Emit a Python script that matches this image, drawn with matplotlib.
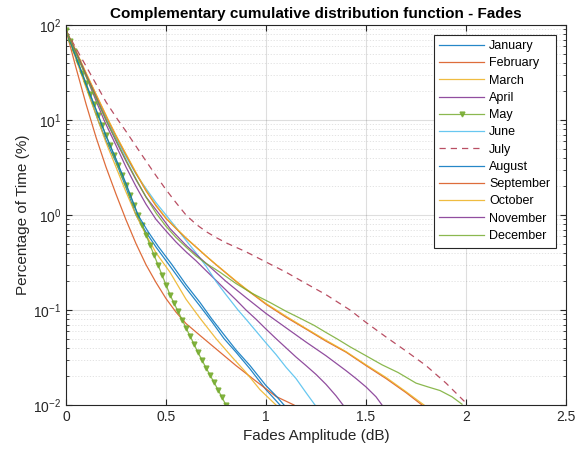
import numpy as np
import matplotlib
matplotlib.use("Agg")
import matplotlib.pyplot as plt
from matplotlib.ticker import LogLocator, NullFormatter, FixedLocator

plt.rcParams['font.family'] = ['Liberation Sans', 'DejaVu Sans']
plt.rcParams['mathtext.fontset'] = 'custom'
plt.rcParams['mathtext.rm'] = 'Liberation Sans'

# values (x in dB, y in % of time)
jan_x = [0, 0.05, 0.1, 0.16, 0.2, 0.25, 0.3, 0.35, 0.4, 0.45, 0.52, 0.6, 0.67, 0.73, 0.79, 0.85, 0.92, 1.0, 1.07]
jan_y = [88, 45, 23, 10, 6.1, 3.6, 1.95, 1.0, 0.66, 0.46, 0.29, 0.17, 0.11, 0.075, 0.05, 0.036, 0.024, 0.0145, 0.01]

feb_x = [0, 0.05, 0.1, 0.15, 0.2, 0.25, 0.3, 0.35, 0.4, 0.45, 0.5, 0.55, 0.6, 0.67, 0.75, 0.85, 0.95, 1.05, 1.14]
feb_y = [88, 35.5, 14.8, 6.6, 3.2, 1.66, 0.89, 0.5, 0.3, 0.195, 0.132, 0.095, 0.072, 0.054, 0.039, 0.026, 0.0178, 0.0123, 0.01]

mar_x = [0, 0.05, 0.1, 0.16, 0.2, 0.25, 0.3, 0.35, 0.4, 0.45, 0.52, 0.6, 0.67, 0.75, 0.83, 0.9, 0.97, 1.05]
mar_y = [88, 44, 22, 10, 5.8, 3.2, 1.75, 1.0, 0.62, 0.40, 0.25, 0.13, 0.082, 0.05, 0.032, 0.022, 0.0145, 0.01]

apr_x = [0, 0.05, 0.1, 0.15, 0.19, 0.25, 0.3, 0.35, 0.4, 0.45, 0.5, 0.55, 0.6, 0.65, 0.7, 0.75, 0.8, 0.85,
         0.9, 0.95, 1.0, 1.05, 1.1, 1.15, 1.2, 1.25, 1.3, 1.35, 1.385]
apr_y = [88, 51, 29, 16, 10, 5.4, 3.2, 2.0, 1.3, 0.9, 0.68, 0.52, 0.41, 0.33, 0.26, 0.205, 0.162, 0.128,
         0.10, 0.08, 0.063, 0.05, 0.04, 0.032, 0.026, 0.021, 0.0165, 0.0125, 0.01]

may_x = [0.00, 0.02, 0.04, 0.06, 0.08, 0.10, 0.12, 0.14, 0.16, 0.18, 0.20, 0.22, 0.24, 0.26, 0.28, 0.30,
         0.32, 0.34, 0.36, 0.38, 0.40, 0.42, 0.44, 0.46, 0.48, 0.50, 0.52, 0.54, 0.56, 0.58, 0.60, 0.62,
         0.64, 0.66, 0.68, 0.70, 0.72, 0.74, 0.76, 0.78, 0.80]
may_y = [88, 68, 52.7, 40.8, 31.6, 24.5, 19.0, 14.7, 11.4, 8.85, 6.95, 5.46, 4.28, 3.36, 2.64, 2.07,
         1.62, 1.27, 1.0, 0.785, 0.617, 0.484, 0.38, 0.299, 0.234, 0.184, 0.145, 0.118, 0.097, 0.0794,
         0.065, 0.0533, 0.0437, 0.0357, 0.0296, 0.0247, 0.0207, 0.0173, 0.0145, 0.012, 0.01]

jun_x = [0, 0.05, 0.1, 0.15, 0.2, 0.25, 0.3, 0.35, 0.4, 0.45, 0.5, 0.55, 0.6, 0.65, 0.7, 0.75, 0.8, 0.86,
         0.9, 0.95, 1.0, 1.05, 1.1, 1.15, 1.2, 1.245]
jun_y = [88, 52, 30, 17.5, 10.5, 6.5, 4.1, 2.7, 1.9, 1.35, 1.0, 0.74, 0.54, 0.4, 0.29, 0.2, 0.145, 0.1,
         0.08, 0.06, 0.045, 0.034, 0.025, 0.019, 0.0135, 0.01]

jul_x = [0, 0.05, 0.1, 0.15, 0.2, 0.26, 0.3, 0.35, 0.4, 0.45, 0.5, 0.55, 0.6, 0.65, 0.7, 0.75, 0.8, 0.9,
         1.0, 1.1, 1.2, 1.3, 1.42, 1.5, 1.6, 1.7, 1.8, 1.9, 2.0]
jul_y = [88, 57, 37, 24, 15.5, 10, 7.6, 5.3, 3.7, 2.6, 1.85, 1.35, 1.0, 0.8, 0.67, 0.58, 0.51, 0.41,
         0.32, 0.25, 0.19, 0.145, 0.1, 0.074, 0.052, 0.037, 0.026, 0.017, 0.0105]

aug_x = [0, 0.05, 0.1, 0.17, 0.2, 0.25, 0.3, 0.36, 0.41, 0.46, 0.53, 0.6, 0.67, 0.73, 0.79, 0.85, 0.92, 1.0, 1.05, 1.09]
aug_y = [88, 46, 24, 10, 6.8, 3.9, 2.15, 1.0, 0.67, 0.47, 0.30, 0.185, 0.12, 0.08, 0.055, 0.038, 0.026, 0.016, 0.0125, 0.01]

sep_x = [0, 0.05, 0.1, 0.15, 0.21, 0.25, 0.3, 0.35, 0.4, 0.45, 0.5, 0.55, 0.6, 0.65, 0.7, 0.75, 0.8, 0.85,
         0.9, 0.95, 1.0, 1.1, 1.2, 1.3, 1.4, 1.5, 1.6, 1.7, 1.78]
sep_y = [88, 53, 31, 18.5, 10, 6.8, 4.3, 2.75, 1.8, 1.25, 0.92, 0.72, 0.57, 0.46, 0.37, 0.3, 0.245, 0.2,
         0.165, 0.138, 0.115, 0.084, 0.063, 0.047, 0.036, 0.026, 0.019, 0.0135, 0.01]

oct_x = [0, 0.05, 0.1, 0.15, 0.21, 0.25, 0.3, 0.35, 0.4, 0.45, 0.5, 0.55, 0.6, 0.65, 0.7, 0.75, 0.8, 0.85,
         0.9, 0.95, 1.0, 1.1, 1.2, 1.3, 1.4, 1.5, 1.6, 1.7, 1.79]
oct_y = [88, 53.5, 31.5, 18.8, 10.2, 6.9, 4.4, 2.8, 1.83, 1.27, 0.93, 0.73, 0.575, 0.462, 0.372, 0.302, 0.247, 0.202,
         0.167, 0.14, 0.117, 0.086, 0.064, 0.048, 0.0365, 0.0265, 0.0195, 0.0138, 0.01]

nov_x = [0, 0.05, 0.1, 0.15, 0.2, 0.25, 0.3, 0.35, 0.4, 0.47, 0.52, 0.6, 0.7, 0.8, 0.9, 1.0, 1.1, 1.2,
         1.3, 1.4, 1.45, 1.5, 1.55, 1.58]
nov_y = [88, 52, 30, 17.5, 10, 6.0, 3.7, 2.35, 1.55, 1.0, 0.72, 0.48, 0.31, 0.2, 0.135, 0.092, 0.065, 0.046,
         0.033, 0.023, 0.019, 0.0155, 0.0122, 0.01]

dec_x = [0, 0.05, 0.1, 0.15, 0.2, 0.25, 0.3, 0.35, 0.4, 0.45, 0.5, 0.55, 0.6, 0.65, 0.7, 0.77, 0.85, 0.93,
         1.02, 1.1, 1.17, 1.24, 1.3, 1.36, 1.42, 1.5, 1.58, 1.66, 1.75, 1.81, 1.87, 1.93, 1.98]
dec_y = [88, 50, 29, 17, 10, 6.2, 3.8, 2.4, 1.55, 1.05, 0.76, 0.58, 0.46, 0.37, 0.31, 0.25, 0.19, 0.15,
         0.12, 0.097, 0.082, 0.069, 0.058, 0.049, 0.041, 0.033, 0.0265, 0.022, 0.017, 0.0155, 0.0142, 0.0122, 0.0102]

months = ["January", "February", "March", "April", "May", "June", "July",
          "August", "September", "October", "November", "December"]
xs = [jan_x, feb_x, mar_x, apr_x, may_x, jun_x, jul_x, aug_x, sep_x, oct_x, nov_x, dec_x]
ys = [jan_y, feb_y, mar_y, apr_y, may_y, jun_y, jul_y, aug_y, sep_y, oct_y, nov_y, dec_y]

# matlab default colour order
mcol = ["#0072BD", "#D95319", "#EDB120", "#7E2F8E", "#77AC30", "#4DBEEE", "#A2142F"]

fig = plt.figure(figsize=(5.86, 4.5), dpi=100)
ax = fig.add_axes([0.1126, 0.1, 0.8533, 0.8444])

for i in range(12):
    c = mcol[i % 7]
    if i == 4:
        ax.semilogy(xs[i], ys[i], color=c, lw=0.9, marker="v", ms=3.5, mfc=c, mec=c,
                    alpha=0.85, label=months[i])
    elif i == 6:
        ax.semilogy(xs[i], ys[i], color=c, lw=0.9, ls=(0, (5, 4)), alpha=0.75, label=months[i])
    else:
        ax.semilogy(xs[i], ys[i], color=c, lw=0.9, alpha=0.85, label=months[i])

ax.set_xlim(0, 2.5)
ax.set_ylim(1e-2, 1e2)
ax.xaxis.set_major_locator(FixedLocator([0, 0.5, 1, 1.5, 2, 2.5]))
ax.set_xticklabels(["0", "0.5", "1", "1.5", "2", "2.5"])
ax.yaxis.set_major_locator(LogLocator(base=10, numticks=10))
ax.yaxis.set_minor_locator(LogLocator(base=10, subs=np.arange(2, 10), numticks=10))
ax.yaxis.set_minor_formatter(NullFormatter())

gc = "#262626"
ax.grid(True, which="major", color=gc, alpha=0.15, lw=0.8)
ax.grid(True, which="minor", axis="y", color=gc, alpha=0.15, lw=0.6, ls=(0, (1.5, 2)))
ax.tick_params(which="both", direction="in", top=True, right=True, colors=gc, labelsize=10)
ax.tick_params(which="major", length=4)
ax.tick_params(which="minor", length=2)
for s in ax.spines.values():
    s.set_color(gc)
    s.set_linewidth(0.8)

ax.set_title("Complementary cumulative distribution function - Fades", fontsize=11,
             fontweight="bold", color="black", pad=5)
ax.set_xlabel("Fades Amplitude (dB)", fontsize=11, color=gc, labelpad=4)
ax.set_ylabel("Percentage of Time (%)", fontsize=11, color=gc, labelpad=2)

leg = ax.legend(loc="upper right", bbox_to_anchor=(0.98, 0.975), fontsize=9, frameon=True,
                fancybox=False, framealpha=1, edgecolor=gc, handlelength=3.6,
                handletextpad=0.4, labelspacing=0.42, borderpad=0.45, borderaxespad=0)
leg.get_frame().set_linewidth(0.8)

fig.savefig("out.png", dpi=100)
